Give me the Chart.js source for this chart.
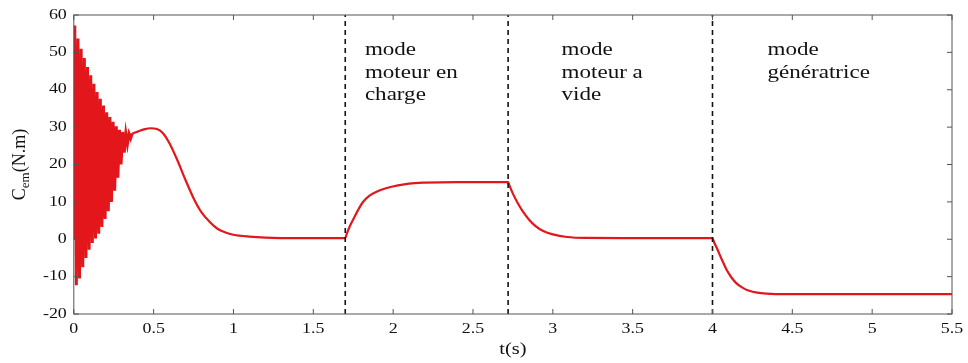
<!DOCTYPE html>
<html>
<head>
<meta charset="utf-8">
<script src="https://cdn.jsdelivr.net/npm/chart.js@4/dist/chart.umd.min.js"></script>
<style>
    html, body { margin: 0; padding: 0; background: #fff; overflow: hidden; }
</style>
</head>
<body>
<canvas id="cemChart" width="968" height="363"></canvas>
<script>
// ================================
// Data
// ================================
// start-up transient: alternating peaks / troughs, ~50 Hz
const tOsc = [0, 0.006, 0.016, 0.026, 0.036, 0.046, 0.056, 0.066, 0.076, 0.086, 0.096,
    0.106, 0.116, 0.126, 0.136, 0.146, 0.156, 0.166, 0.176, 0.186, 0.196,
    0.206, 0.216, 0.226, 0.236, 0.246, 0.256, 0.266, 0.276, 0.286, 0.296,
    0.306, 0.316, 0.326, 0.336, 0.346, 0.356, 0.366];
const cemOsc = [0, 57.2, -12.3, 53.7, -10.5, 51.0, -7.5, 48.5, -5.0, 46.1, -2.8,
    43.9, -1.0, 41.6, 0.2, 39.4, 1.5, 37.6, 3.3, 35.8, 5.4,
    34.0, 7.5, 32.7, 10.0, 31.4, 13.0, 30.2, 16.5, 29.3, 20.0,
    28.7, 23.2, 28.3, 25.5, 28.2, 27.0, 28.3];

// rest of the run
const tSmooth = [0.366, 0.38, 0.40, 0.44, 0.48, 0.52, 0.56, 0.60, 0.65, 0.70,
    0.75, 0.80, 0.85, 0.90, 0.95, 1.0, 1.1, 1.2, 1.4, 1.7,
    1.71, 1.73, 1.75, 1.78, 1.81, 1.85, 1.90, 1.96, 2.03, 2.10, 2.2, 2.4,
    2.72, 2.73, 2.75, 2.78, 2.81, 2.85, 2.89, 2.94, 3.0, 3.09, 3.2,
    3.5, 4.0, 4.01, 4.03, 4.05, 4.07, 4.09, 4.12, 4.15, 4.19, 4.23, 4.28,
    4.34, 4.45, 5.5];
const cemSmooth = [28.3, 28.5, 28.8, 29.4, 29.7, 29.5, 28.3, 25.6, 21.0, 15.8,
    11.0, 7.2, 4.7, 2.8, 1.8, 1.2, 0.7, 0.45, 0.3, 0.3,
    1.5, 3.6, 5.3, 7.8, 9.9, 11.6, 12.8, 13.7, 14.4, 14.9, 15.15, 15.3,
    15.3, 14.2, 12.2, 9.7, 7.6, 5.3, 3.6, 2.2, 1.3, 0.6, 0.35,
    0.3, 0.3, -0.8, -2.6, -4.6, -6.5, -8.3, -10.3, -11.8, -13.0, -13.8, -14.3,
    -14.55, -14.7, -14.7];

const modeSwitchTimes = [1.7, 2.72, 4.0];
const modeLabels = [
    ["mode", "moteur en", "charge"],
    ["mode", "moteur a", "vide"],
    ["mode", "génératrice"]
];

const xTickValues = [0, 0.5, 1, 1.5, 2, 2.5, 3, 3.5, 4, 4.5, 5, 5.5];
const yTickValues = [-20, -10, 0, 10, 20, 30, 40, 50, 60];

// ================================
// Layout / style
// ================================
const SERIF = "'Liberation Serif'";
const STRETCH = 1.28;            // the reference text is wide, so stretch it in x
const TEXT = "#111";
const RED = "#e3161b";
const labelAnchors = [           // where each mode label starts (data units)
    { x: 1.823, y: 50.5 },
    { x: 3.055, y: 50.5 },
    { x: 4.345, y: 50.5 }
];

const toPoints = (xs, ys) => xs.map((x, i) => ({ x: x, y: ys[i] }));

// dashed mode-switch lines as datasets
const switchSets = modeSwitchTimes.map(t => ({
    data: [{ x: t, y: -20 }, { x: t, y: 60 }],
    borderColor: "#111",
    borderWidth: 1.6,
    borderDash: [5, 4],
    pointRadius: 0,
    tension: 0
}));

function wideText(ctx, s, x, y, align) {
    ctx.save();
    ctx.translate(x, y);
    ctx.scale(STRETCH, 1);
    ctx.textAlign = align;
    ctx.fillText(s, 0, 0);
    ctx.restore();
}

// box + inward ticks on all four sides, all the text
const framePlugin = {
    id: "frame",
    afterDraw(chart) {
        const { ctx, chartArea: a, scales } = chart;
        const xs = scales.x, ys = scales.y;
        ctx.save();
        ctx.strokeStyle = "#555";
        ctx.lineWidth = 1;
        ctx.strokeRect(a.left, a.top, a.right - a.left, a.bottom - a.top);
        ctx.beginPath();
        xTickValues.forEach(v => {
            const px = xs.getPixelForValue(v);
            ctx.moveTo(px, a.bottom); ctx.lineTo(px, a.bottom - 5);
            ctx.moveTo(px, a.top); ctx.lineTo(px, a.top + 5);
        });
        yTickValues.forEach(v => {
            const py = ys.getPixelForValue(v);
            ctx.moveTo(a.left, py); ctx.lineTo(a.left + 5, py);
            ctx.moveTo(a.right, py); ctx.lineTo(a.right - 5, py);
        });
        ctx.stroke();

        ctx.fillStyle = TEXT;
        ctx.textBaseline = "middle";

        // tick labels
        ctx.font = "14px " + SERIF;
        xTickValues.forEach(v => wideText(ctx, String(v), xs.getPixelForValue(v), a.bottom + 15, "center"));
        yTickValues.forEach(v => wideText(ctx, String(v), a.left - 7, ys.getPixelForValue(v), "right"));

        // x title
        ctx.font = "16px " + SERIF;
        wideText(ctx, "t(s)", (a.left + a.right) / 2, a.bottom + 36, "center");

        // mode labels
        ctx.font = "18px " + SERIF;
        modeLabels.forEach((lines, i) => {
            const x0 = xs.getPixelForValue(labelAnchors[i].x);
            const y0 = ys.getPixelForValue(labelAnchors[i].y);
            lines.forEach((s, j) => wideText(ctx, s, x0, y0 + j * 22.5, "left"));
        });

        // y title with subscript
        ctx.translate(19, (a.top + a.bottom) / 2);
        ctx.rotate(-Math.PI / 2);
        const big = "18px " + SERIF, small = "13px " + SERIF;
        ctx.font = big;
        const wC = ctx.measureText("C").width;
        const wRest = ctx.measureText("(N.m)").width;
        ctx.font = small;
        const wSub = ctx.measureText("em").width;
        let x = -(wC + wSub + wRest) / 2;
        ctx.textBaseline = "alphabetic";
        ctx.textAlign = "left";
        ctx.font = big;
        ctx.fillText("C", x, 6);
        x += wC;
        ctx.font = small;
        ctx.fillText("em", x, 10);
        x += wSub;
        ctx.font = big;
        ctx.fillText("(N.m)", x, 6);
        ctx.restore();
    }
};

function drawChart() {
    new Chart(document.getElementById("cemChart"), {
        type: "line",
        data: {
            datasets: [
                ...switchSets,
                {
                    data: toPoints(tOsc, cemOsc),
                    borderColor: RED,
                    borderWidth: 3,
                    pointRadius: 0,
                    tension: 0
                },
                {
                    data: toPoints(tSmooth, cemSmooth),
                    borderColor: RED,
                    borderWidth: 2.2,
                    pointRadius: 0,
                    cubicInterpolationMode: "monotone"
                }
            ]
        },
        options: {
            responsive: false,
            animation: false,
            devicePixelRatio: 1,
            layout: { padding: { left: 0, right: 16, top: 15, bottom: 0 } },
            plugins: { legend: { display: false }, tooltip: { enabled: false } },
            scales: {
                x: {
                    type: "linear",
                    min: 0,
                    max: 5.5,
                    afterFit: s => { s.height = 49; },
                    grid: { display: false, drawTicks: false },
                    border: { display: false },
                    ticks: { display: false }
                },
                y: {
                    type: "linear",
                    min: -20,
                    max: 60,
                    afterFit: s => { s.width = 73.8; },
                    grid: { display: false, drawTicks: false },
                    border: { display: false },
                    ticks: { display: false }
                }
            }
        },
        plugins: [framePlugin]
    });
}

// make sure the serif face is ready before the canvas text is drawn
Promise.all([
    document.fonts.load("18px 'Liberation Serif'"),
    document.fonts.load("14px 'Liberation Serif'")
]).then(drawChart, drawChart);
</script>
</body>
</html>
